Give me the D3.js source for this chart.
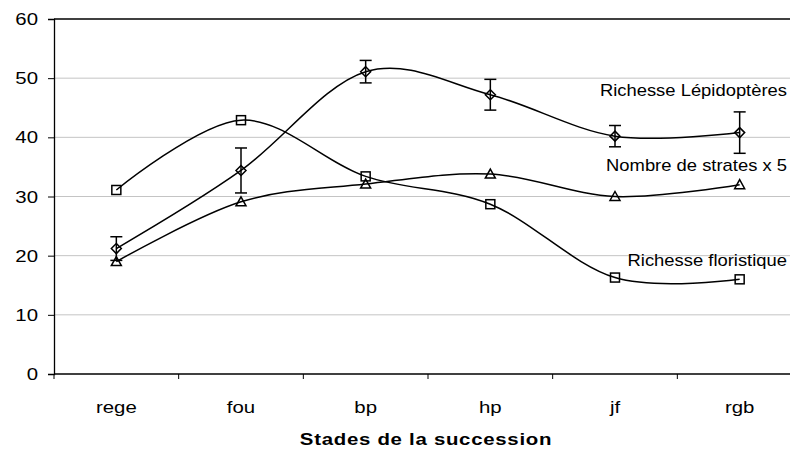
<!DOCTYPE html>
<html><head><meta charset="utf-8">
<script src="https://cdn.jsdelivr.net/npm/d3@7"></script>
<style>
body{margin:0;background:#fff;}
text{font-family:Arial,"Liberation Sans",sans-serif;fill:#000;}
</style></head>
<body><svg id="c" width="790" height="457"></svg>
<script>
const categories = ["rege","fou","bp","hp","jf","rgb"];
const lepidopteres = [21.2, 34.4, 51.1, 47.2, 40.2, 40.8];
const lepidopteresErr = [2.0, 3.8, 1.9, 2.6, 1.8, 3.5];
const strates = [19.0, 29.1, 32.1, 33.8, 30.0, 32.0];
const floristique = [31.1, 42.9, 33.4, 28.7, 16.3, 16.0];
const yTicks = [0,10,20,30,40,50,60];
const seriesLabels = ["Richesse Lépidoptères","Nombre de strates x 5","Richesse floristique"];
const xTitle = "Stades de la succession";

const svg = d3.select("#c");
const L = 54, R = 802, T = 19, B = 374;
const SX = 1.2;
const x = d3.scaleBand().domain(categories).range([L, R]);
const y = d3.scaleLinear().domain([0, 60]).range([B, T]);
const cx = c => x(c) + x.bandwidth()/2;

// gridlines
svg.append("g").selectAll("line").data(yTicks.filter(t => t > 0 && t < 60)).join("line")
  .attr("x1", L).attr("x2", R).attr("y1", d => y(d)).attr("y2", d => y(d))
  .attr("stroke", "#c4c4c4").attr("stroke-width", 1);
// top border
svg.append("line").attr("x1", L).attr("x2", R).attr("y1", y(60)).attr("y2", y(60))
  .attr("stroke", "#000").attr("stroke-width", 1.3);

// y axis
const yAxis = svg.append("g").attr("transform", `translate(${L},0)`)
  .call(d3.axisLeft(y).tickValues(yTicks).tickSize(6).tickFormat(d3.format("d")));
yAxis.select(".domain").attr("stroke-width", 1.3);
yAxis.selectAll("text").remove();
svg.append("g").selectAll("text").data(yTicks).join("text")
  .attr("transform", d => `translate(38,${y(d) + 6}) scale(${SX},1)`)
  .attr("text-anchor", "end").attr("font-size", 17).text(d => d);

// x axis
const xTickPos = categories.map(c => x(c)).concat([R]);
svg.append("line").attr("x1", L).attr("x2", R).attr("y1", B).attr("y2", B)
  .attr("stroke", "#000").attr("stroke-width", 1.3);
svg.append("g").selectAll("line").data(xTickPos).join("line")
  .attr("x1", d => d).attr("x2", d => d).attr("y1", B).attr("y2", B + 5)
  .attr("stroke", "#000").attr("stroke-width", 1);
svg.append("g").selectAll("text").data(categories).join("text")
  .attr("transform", d => `translate(${cx(d)},413) scale(${SX},1)`)
  .attr("text-anchor", "middle").attr("font-size", 17).text(d => d);
svg.append("text").attr("transform", `translate(${(L+R)/2 - 2},445) scale(${SX},1)`)
  .attr("text-anchor", "middle").attr("font-size", 17).attr("font-weight", "bold")
  .attr("letter-spacing", 0.6).text(xTitle);

const line = d3.line().x((d,i) => cx(categories[i])).y(d => y(d)).curve(d3.curveCardinal.tension(0));
[lepidopteres, strates, floristique].forEach(s => {
  svg.append("path").attr("d", line(s)).attr("fill", "none").attr("stroke", "#000").attr("stroke-width", 1.5);
});

// error bars
const eg = svg.append("g").attr("stroke", "#000").attr("stroke-width", 1.5);
lepidopteres.forEach((v, i) => {
  const px = cx(categories[i]), e = lepidopteresErr[i];
  eg.append("line").attr("x1", px).attr("x2", px).attr("y1", y(v+e)).attr("y2", y(v-e));
  eg.append("line").attr("x1", px-6).attr("x2", px+6).attr("y1", y(v+e)).attr("y2", y(v+e));
  eg.append("line").attr("x1", px-6).attr("x2", px+6).attr("y1", y(v-e)).attr("y2", y(v-e));
});

// markers
const mg = svg.append("g").attr("fill", "none").attr("stroke", "#000").attr("stroke-width", 1.5);
lepidopteres.forEach((v, i) => {
  const px = cx(categories[i]), py = y(v);
  mg.append("path").attr("d", `M${px},${py-5}L${px+5},${py}L${px},${py+5}L${px-5},${py}Z`);
});
strates.forEach((v, i) => {
  const px = cx(categories[i]), py = y(v);
  mg.append("path").attr("d", `M${px},${py-5}L${px+5},${py+4}L${px-5},${py+4}Z`);
});
floristique.forEach((v, i) => {
  const px = cx(categories[i]), py = y(v);
  mg.append("rect").attr("x", px-4.5).attr("y", py-4.5).attr("width", 9).attr("height", 9);
});

// series labels
const labelPos = [[787, 96], [787, 171], [787, 266]];
svg.append("g").selectAll("text").data(seriesLabels).join("text")
  .attr("transform", (d,i) => `translate(${labelPos[i][0]},${labelPos[i][1]}) scale(1.15,1)`)
  .attr("text-anchor", "end").attr("font-size", 16).text(d => d);
</script></body></html>
